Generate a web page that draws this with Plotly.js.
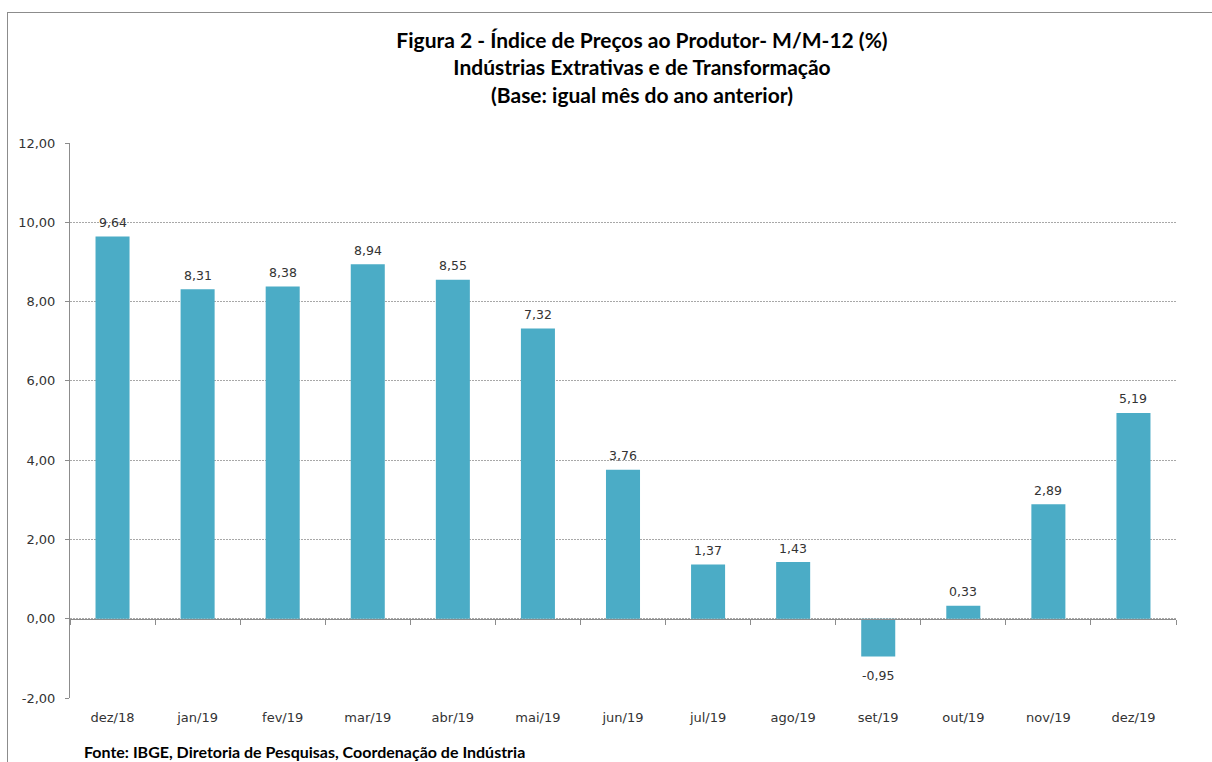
<!DOCTYPE html>
<html>
<head>
<meta charset="utf-8">
<script src="https://cdn.plot.ly/plotly-3.0.1.min.js"></script>
<style>
html,body{margin:0;padding:0;background:#fff;overflow:hidden;}
#frame{position:absolute;left:7px;top:12px;width:1240px;height:800px;border:1px solid #8c8c8c;box-sizing:border-box;}
#chart{position:absolute;left:0;top:0;width:1212px;height:762px;}
</style>
</head>
<body>
<div id="frame"></div>
<div id="chart"></div>
<script>
const categories = ["dez/18","jan/19","fev/19","mar/19","abr/19","mai/19","jun/19","jul/19","ago/19","set/19","out/19","nov/19","dez/19"];
const values = [9.64, 8.31, 8.38, 8.94, 8.55, 7.32, 3.76, 1.37, 1.43, -0.95, 0.33, 2.89, 5.19];
const yTicks = [-2, 0, 2, 4, 6, 8, 10, 12];

const fmt = v => v.toFixed(2).replace(".", ",");
const tickFont = {family: "DejaVu Sans, Verdana, sans-serif", size: 13, color: "#333333"};
const labelFont = {family: "DejaVu Sans, Verdana, sans-serif", size: 12.5, color: "#333333"};

const trace = {
  type: "bar",
  x: categories,
  y: values,
  marker: {color: "#4BACC6"},
  width: 0.4,
  hoverinfo: "skip"
};

const valueLabels = categories.map((c, i) => ({
  x: c, y: values[i], xref: "x", yref: "y",
  text: fmt(values[i]),
  showarrow: false,
  xanchor: "center", yanchor: "middle",
  yshift: values[i] >= 0 ? 14 : -19,
  font: labelFont
}));

const layout = {
  width: 1212, height: 762,
  paper_bgcolor: "rgba(0,0,0,0)",
  plot_bgcolor: "rgba(0,0,0,0)",
  separators: ",.",
  margin: {l: 70, r: 36, t: 143, b: 64},
  showlegend: false,
  title: {
    text: "Figura 2 - Índice de Preços ao Produtor- M/M-12 (%)<br>Indústrias Extrativas e de Transformação<br>(Base: igual mês do ano anterior)",
    font: {family: "Lato, Open Sans, sans-serif", size: 21, color: "#000000", weight: "bold"},
    x: 642/1212, xref: "container", xanchor: "center",
    y: 1 - 48/762, yref: "container", yanchor: "top"
  },
  xaxis: {
    type: "category",
    categoryorder: "array",
    categoryarray: categories,
    range: [-0.5, categories.length - 0.5],
    anchor: "free",
    position: 2/14,
    showline: true, linecolor: "#8c8c8c", linewidth: 1,
    ticks: "outside", tickson: "boundaries", ticklen: 5, tickcolor: "#8c8c8c",
    showgrid: false, zeroline: false,
    tickfont: tickFont,
    ticklabelstandoff: 87
  },
  yaxis: {
    range: [-2, 12],
    tickvals: yTicks,
    ticktext: yTicks.map(fmt),
    showline: true, linecolor: "#8c8c8c", linewidth: 1,
    ticks: "outside", ticklen: 4, tickcolor: "#8c8c8c",
    showgrid: true, gridcolor: "#a8a8a8", griddash: "2px,1px", gridwidth: 1,
    zeroline: false,
    tickfont: tickFont,
    ticklabelstandoff: 7
  },
  annotations: valueLabels.concat([{
    text: "<b>Fonte: IBGE, Diretoria de Pesquisas, Coordenação de Indústria</b>",
    xref: "paper", yref: "paper",
    x: (82 - 70) / (1176 - 70), y: -(752 - 698) / (698 - 143),
    xanchor: "left", yanchor: "middle",
    showarrow: false,
    font: {family: "Lato, Open Sans, sans-serif", size: 16, color: "#000000"}
  }])
};

Plotly.newPlot("chart", [trace], layout, {displayModeBar: false, staticPlot: true});
</script>
</body>
</html>
